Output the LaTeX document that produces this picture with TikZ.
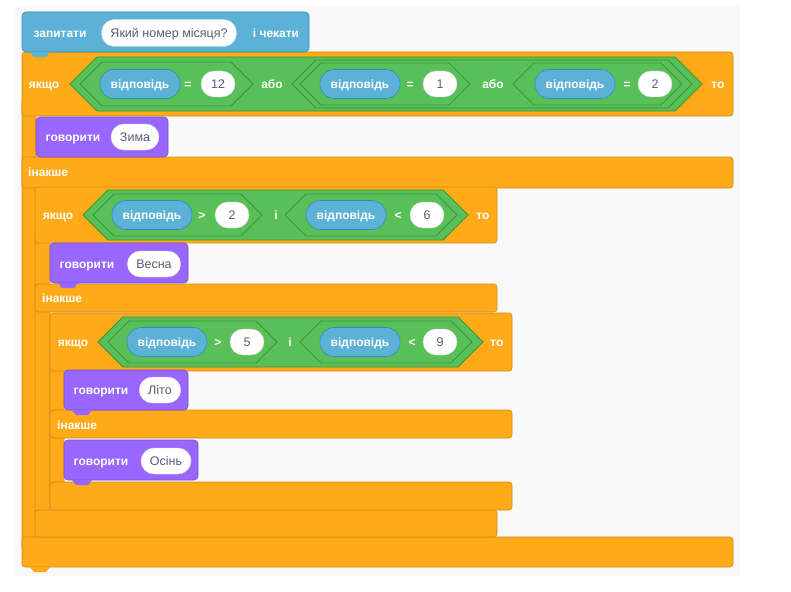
\documentclass[tikz,border=0pt]{standalone}
\usepackage{fontspec}
\setmainfont{Liberation Sans}
\usetikzlibrary{positioning}

\definecolor{ctrl}{HTML}{FFAB19}
\definecolor{ctrlD}{HTML}{CF8B17}
\definecolor{looks}{HTML}{9966FF}
\definecolor{looksD}{HTML}{774DCB}
\definecolor{sense}{HTML}{5CB1D6}
\definecolor{senseD}{HTML}{2E8EB8}
\definecolor{oper}{HTML}{59C059}
\definecolor{operD}{HTML}{389438}
\definecolor{txtD}{HTML}{575E75}
\definecolor{canvas}{HTML}{F9F9F9}

% hexagon: x1, x2, y centre, height, fill
\newcommand{\hexcond}[5]{%
  \fill[#5,draw=operD,line width=0.8pt]
    (#1,#3) -- ++(#4/2,-#4/2) -- (#2-#4/2,#3-#4/2) -- (#2,#3)
    -- (#2-#4/2,#3+#4/2) -- (#1+#4/2,#3+#4/2) -- cycle;}
% bar of a C block: x1, x2, y1, y2
\newcommand{\cbar}[4]{%
  \fill[ctrl,draw=ctrlD,line width=0.6pt,rounded corners=3pt] (#1,#3) rectangle (#2,#4);}
\newcommand{\notch}[2]{%
  \fill[#2] (#1) ++(8,0) -- ++(4,5) -- ++(12,0) -- ++(4,-5) -- cycle;}

\begin{document}
\begin{tikzpicture}[x=1pt,y=-1pt,
    lbl/.style={text=white,font=\fontsize{12}{12}\selectfont\bfseries,inner sep=0pt,
      text height=8.6pt,text depth=0pt},
    rep/.style={fill=sense,draw=senseD,line width=0.6pt,rounded corners=14pt,
      minimum height=29pt,minimum width=80pt,inner sep=0pt,text height=8.6pt,text depth=0pt,
      text=white,font=\fontsize{12}{12}\selectfont\bfseries},
    num/.style={fill=white,draw=black!15,rounded corners=13pt,minimum height=26pt,
      minimum width=34pt,inner xsep=9pt,inner ysep=0pt,text height=8.6pt,text depth=0pt,
      text=txtD,font=\fontsize{12.5}{12}\selectfont},
    say/.style={fill=looks,draw=looksD,line width=0.6pt,rounded corners=4pt}]
  \useasboundingbox (0,0) rectangle (791,591);
  \fill[canvas] (15,5) rectangle (740,576);

  % outer if-else
  \cbar{22}{36}{100}{550}
  \cbar{22}{733}{52}{116}
  \cbar{22}{733}{157}{188}
  \cbar{22}{733}{537}{567}
  \notch{22,567}{ctrl}
  % second if-else
  \cbar{35}{50}{230}{525}
  \cbar{35}{497}{187}{243}
  \cbar{35}{497}{284}{312}
  \cbar{35}{497}{510}{537}
  % third if-else
  \cbar{50}{64}{360}{495}
  \cbar{50}{512}{313}{371}
  \cbar{50}{512}{410}{438}
  \cbar{50}{512}{482}{510}

  % ask
  \fill[sense,draw=senseD,line width=0.6pt,rounded corners=4pt] (22,12) rectangle (309,52);
  \notch{22,52}{sense}
  \node[lbl] (ask) at (60,33) {запитати};
  \node[num,minimum height=27pt] (q) at (169,33) {Який номер місяця?};
  \node[lbl] (wait) at (276,33) {і чекати};

  % condition 1
  \node[lbl] (if1) at (44,84) {якщо};
  \hexcond{70}{702}{84}{54}{oper}
  \hexcond{80}{253}{84}{44}{oper}
  \node[rep] (r1) at (140,84) {відповідь};
  \node[lbl] (e1) at (188,84) {=};
  \node[num] (n1) at (218,84) {12};
  \node[lbl] (o1) at (272,84) {або};
  \hexcond{292}{692}{84}{48}{oper}
  \hexcond{300}{470}{84}{42}{oper}
  \node[rep] (r2) at (360,84) {відповідь};
  \node[lbl] (e2) at (410,84) {=};
  \node[num] (n2) at (440,84) {1};
  \node[lbl] (o2) at (493,84) {або};
  \hexcond{513}{682}{84}{42}{oper}
  \node[rep] (r3) at (575,84) {відповідь};
  \node[lbl] (e3) at (627,84) {=};
  \node[num] (n3) at (655,84) {2};
  \node[lbl] (then1) at (718,84) {то};

  \draw[say] (36,117) rectangle (168,157);
  \node[lbl] (s1) at (73,137) {говорити};
  \node[num] (t1) at (135,137) {Зима};
  \node[lbl,anchor=west] (else1) at (28,172) {інакше};

  % condition 2
  \node[lbl] (if2) at (58,215) {якщо};
  \hexcond{83}{468}{215}{50}{oper}
  \hexcond{93}{262}{215}{42}{oper}
  \node[rep] (r4) at (152,215) {відповідь};
  \node[lbl] (g1) at (202,215) {>};
  \node[num] (n4) at (232,215) {2};
  \node[lbl] (a1) at (276,215) {і};
  \hexcond{285}{457}{215}{42}{oper}
  \node[rep] (r5) at (346,215) {відповідь};
  \node[lbl] (l1) at (398,215) {<};
  \node[num] (n5) at (427,215) {6};
  \node[lbl] (then2) at (483,215) {то};

  \draw[say] (50,243) rectangle (188,283);
  \notch{50,283}{looks}
  \node[lbl] (s2) at (87,264) {говорити};
  \node[num] (t2) at (154,264) {Весна};
  \node[lbl,anchor=west] (else2) at (42,298) {інакше};

  % condition 3
  \node[lbl] (if3) at (73,342) {якщо};
  \hexcond{98}{483}{342}{50}{oper}
  \hexcond{108}{277}{342}{42}{oper}
  \node[rep] (r6) at (167,342) {відповідь};
  \node[lbl] (g2) at (218,342) {>};
  \node[num] (n6) at (247,342) {5};
  \node[lbl] (a2) at (290,342) {і};
  \hexcond{300}{472}{342}{42}{oper}
  \node[rep] (r7) at (360,342) {відповідь};
  \node[lbl] (l2) at (412,342) {<};
  \node[num] (n7) at (440,342) {9};
  \node[lbl] (then3) at (497,342) {то};

  \draw[say] (64,370) rectangle (188,410);
  \notch{64,410}{looks}
  \node[lbl] (s3) at (101,390) {говорити};
  \node[num] (t3) at (160,390) {Літо};
  \node[lbl,anchor=west] (else3) at (57,425) {інакше};

  \draw[say] (64,440) rectangle (198,480);
  \notch{64,480}{looks}
  \node[lbl] (s4) at (101,461) {говорити};
  \node[num] (t4) at (166,461) {Осінь};
\end{tikzpicture}
\end{document}
